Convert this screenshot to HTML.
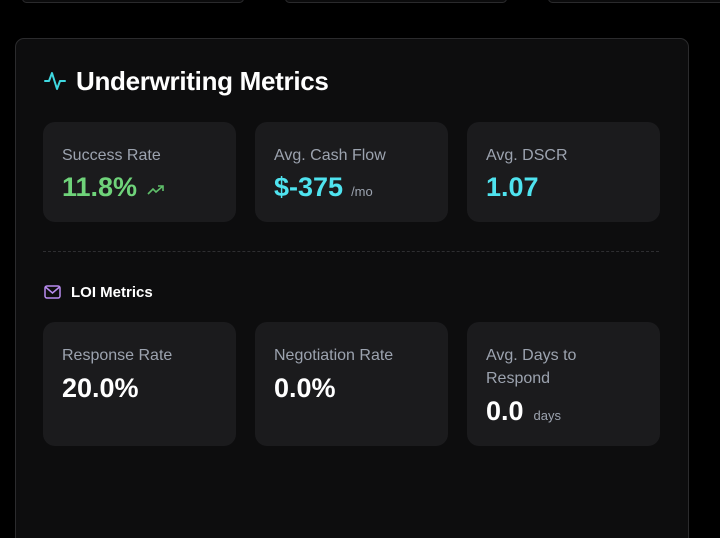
<!DOCTYPE html>
<html><head><style>
html,body{margin:0;width:720px;height:538px;overflow:hidden}
body{background:#000;font-family:"Liberation Sans",sans-serif;position:relative}
.top{position:absolute;top:-6px;height:7px;border:1px solid #2a2a2c;border-radius:6px;background:#0b0b0c}
.panel{position:absolute;left:15px;top:38px;width:672px;height:520px;background:#0d0d0e;border:1px solid #2b2b2d;border-radius:9px}
.card{position:absolute;background:#1b1b1d;border-radius:12px;width:193px}
.lbl{position:absolute;left:19px;top:22px;color:#9ca3af;font-size:16px;line-height:23px}
.val{position:absolute;left:19px;font-size:27px;font-weight:bold;color:#fff}
.unit{font-size:13px;color:#9ca3af;font-weight:normal;margin-left:8px}
</style></head><body>
<div class="top" style="left:22px;width:220px"></div>
<div class="top" style="left:285px;width:220px"></div>
<div class="top" style="left:548px;width:200px"></div>
<div class="panel"></div>
<svg style="position:absolute;left:44px;top:70px" width="22" height="22" viewBox="0 0 22 22"><polyline points="1,11 5,11 8,3 13,19 16,11 21,11" fill="none" stroke="#3fd8e0" stroke-width="2" stroke-linejoin="round" stroke-linecap="round"/></svg>
<div style="position:absolute;left:76px;top:66px;font-size:26px;font-weight:bold;color:#fff;letter-spacing:-0.3px">Underwriting Metrics</div>

<div class="card" style="left:43px;top:122px;height:100px"><div class="lbl">Success Rate</div><div class="val" style="top:50px;color:#6fd37a">11.8%<svg style="margin-left:10px" width="18" height="12" viewBox="0 0 18 12"><polyline points="1,10 6,5 9,8 16,2" fill="none" stroke="#5fbf6a" stroke-width="1.6"/><polyline points="11,2 16,2 16,7" fill="none" stroke="#5fbf6a" stroke-width="1.6"/></svg></div></div>
<div class="card" style="left:255px;top:122px;height:100px"><div class="lbl">Avg. Cash Flow</div><div class="val" style="top:50px;color:#4fe3ef">$-375<span class="unit">/mo</span></div></div>
<div class="card" style="left:467px;top:122px;height:100px"><div class="lbl">Avg. DSCR</div><div class="val" style="top:50px;color:#4fe3ef">1.07</div></div>

<div style="position:absolute;left:43px;top:251px;width:616px;border-top:1px dashed #2e2e31"></div>
<svg style="position:absolute;left:44px;top:285px" width="17" height="14" viewBox="0 0 17 14"><rect x="1" y="1" width="15" height="12" rx="2" fill="none" stroke="#b98cf0" stroke-width="1.5"/><polyline points="1.5,2 8.5,8 15.5,2" fill="none" stroke="#b98cf0" stroke-width="1.5"/></svg>
<div style="position:absolute;left:71px;top:284px;font-size:15px;font-weight:bold;color:#fff">LOI Metrics</div>

<div class="card" style="left:43px;top:322px;height:124px"><div class="lbl">Response Rate</div><div class="val" style="top:51px">20.0%</div></div>
<div class="card" style="left:255px;top:322px;height:124px"><div class="lbl">Negotiation Rate</div><div class="val" style="top:51px">0.0%</div></div>
<div class="card" style="left:467px;top:322px;height:124px"><div class="lbl">Avg. Days to<br>Respond</div><div class="val" style="top:74px">0.0<span class="unit" style="margin-left:10px">days</span></div></div>
</body></html>
